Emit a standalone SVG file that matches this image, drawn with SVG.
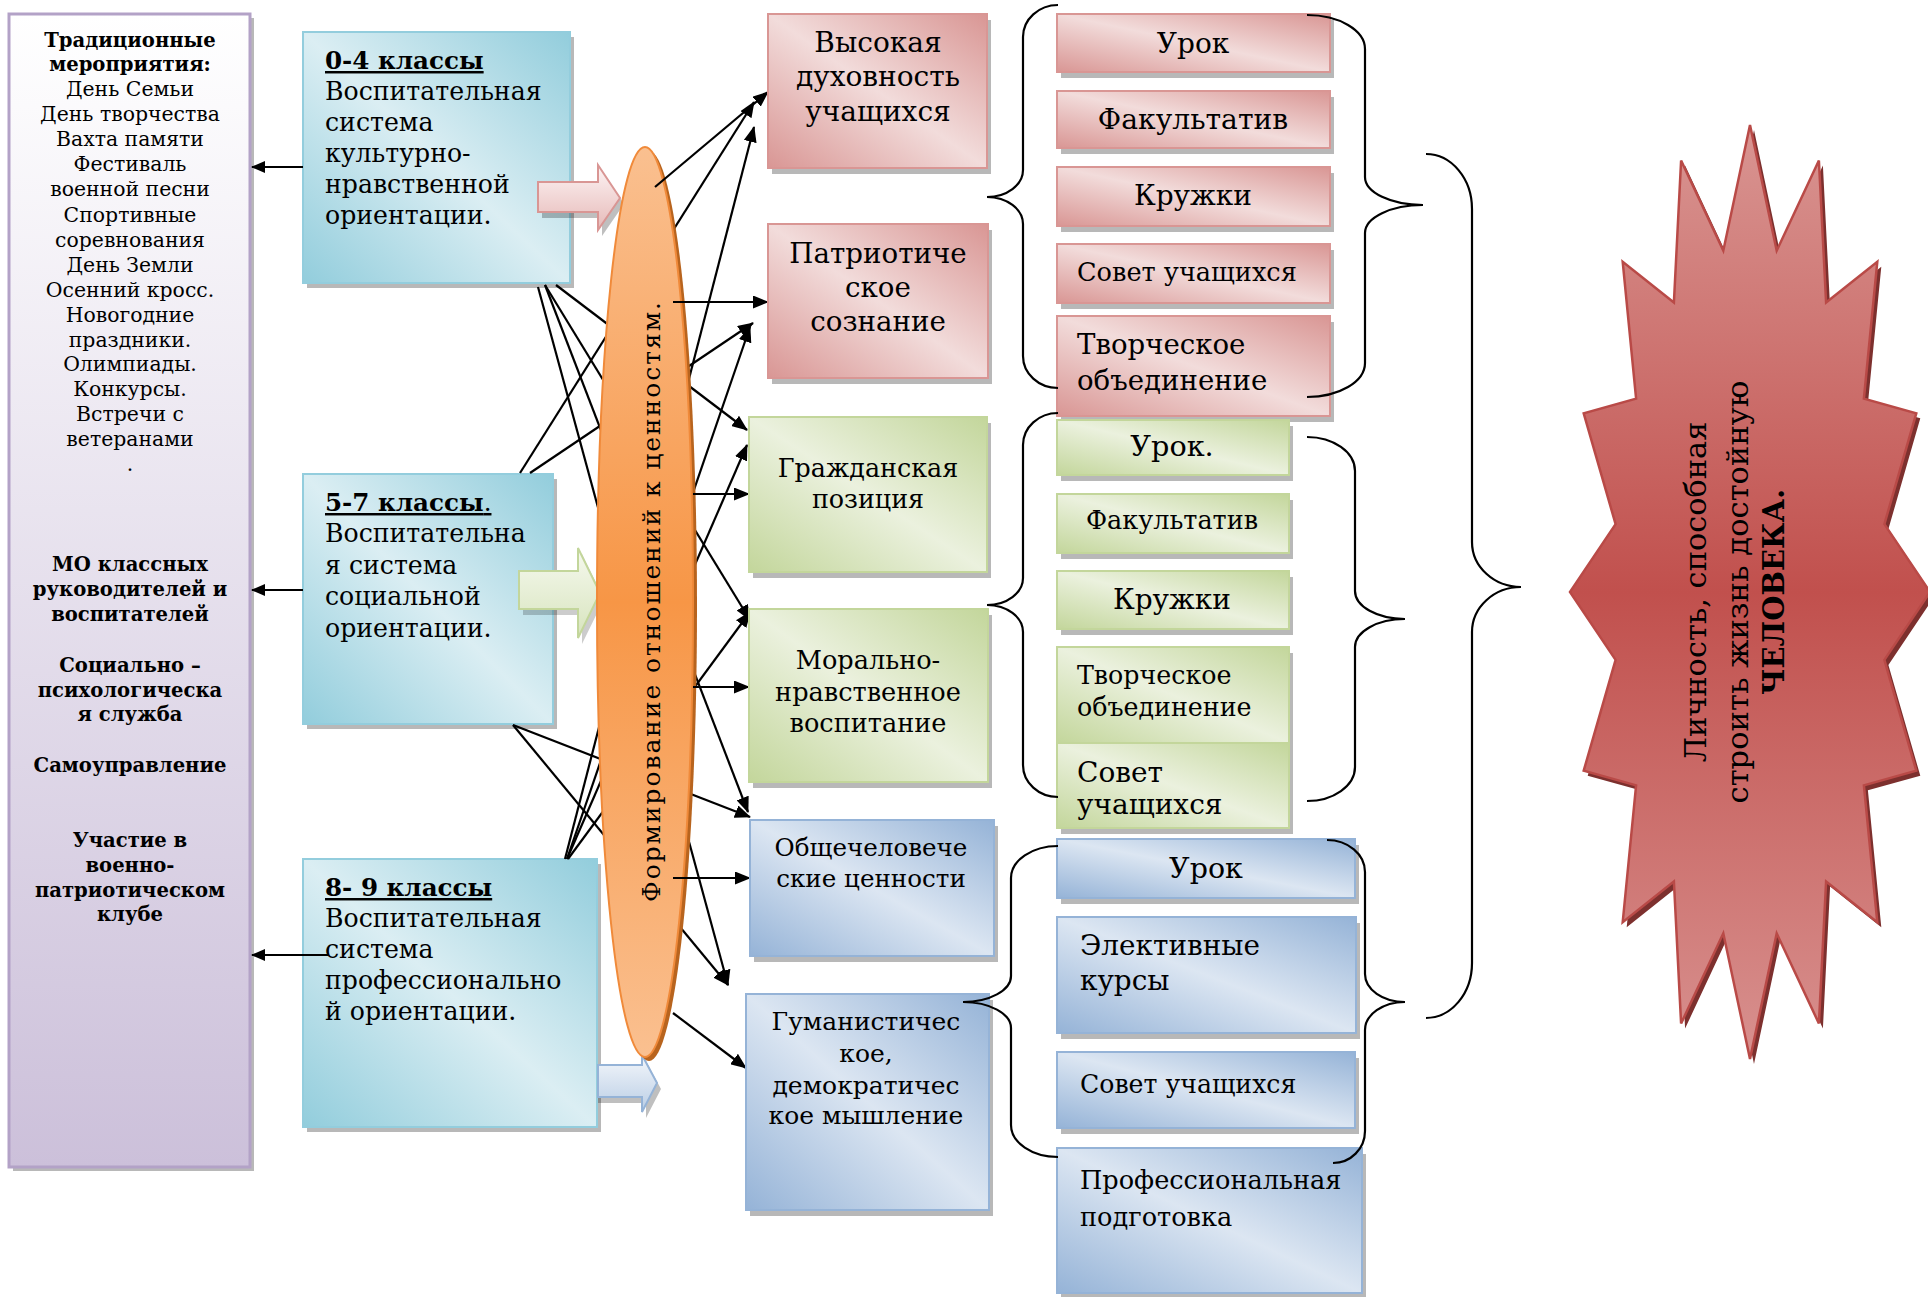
<svg xmlns="http://www.w3.org/2000/svg" width="1928" height="1297" viewBox="0 0 1928 1297">
<defs>
<linearGradient id="gTeal" x1="1" y1="0" x2="0" y2="1"><stop offset="0" stop-color="#92CDDC"/><stop offset="0.5" stop-color="#DBEEF3"/><stop offset="1" stop-color="#92CDDC"/></linearGradient>
<linearGradient id="gPink" x1="1" y1="0" x2="0" y2="1"><stop offset="0" stop-color="#D99694"/><stop offset="0.5" stop-color="#F2DCDB"/><stop offset="1" stop-color="#D99694"/></linearGradient>
<linearGradient id="gGreen" x1="1" y1="0" x2="0" y2="1"><stop offset="0" stop-color="#C3D69B"/><stop offset="0.5" stop-color="#EBF1DE"/><stop offset="1" stop-color="#C3D69B"/></linearGradient>
<linearGradient id="gBlue" x1="1" y1="0" x2="0" y2="1"><stop offset="0" stop-color="#95B3D7"/><stop offset="0.5" stop-color="#DCE6F2"/><stop offset="1" stop-color="#95B3D7"/></linearGradient>
<linearGradient id="gPurple" x1="0" y1="0" x2="0" y2="1"><stop offset="0" stop-color="#FFFFFF"/><stop offset="1" stop-color="#CCC0DA"/></linearGradient>
<linearGradient id="gOrange" x1="0" y1="0" x2="0" y2="1"><stop offset="0" stop-color="#FAC090"/><stop offset="0.5" stop-color="#F79646"/><stop offset="1" stop-color="#FAC090"/></linearGradient>
<linearGradient id="gStar" x1="0" y1="0" x2="0" y2="1"><stop offset="0" stop-color="#D99592"/><stop offset="0.5" stop-color="#C1504D"/><stop offset="1" stop-color="#D8918F"/></linearGradient>
<linearGradient id="gArrP" x1="0" y1="0" x2="0" y2="1"><stop offset="0" stop-color="#FDF4F4"/><stop offset="1" stop-color="#E6B9B8"/></linearGradient>
<linearGradient id="gArrG" x1="0" y1="0" x2="0" y2="1"><stop offset="0" stop-color="#F6F9EF"/><stop offset="1" stop-color="#D7E4BD"/></linearGradient>
<linearGradient id="gArrB" x1="0" y1="0" x2="0" y2="1"><stop offset="0" stop-color="#F4F7FB"/><stop offset="1" stop-color="#B9CDE5"/></linearGradient>
<marker id="ah" markerUnits="userSpaceOnUse" markerWidth="16" markerHeight="13" viewBox="0 0 16 13" refX="15" refY="6.5" orient="auto"><path d="M0,0 L16,6.5 L0,13 z" fill="#000"/></marker>
<marker id="ahs" markerUnits="userSpaceOnUse" markerWidth="14" markerHeight="12" viewBox="0 0 14 12" refX="13" refY="6" orient="auto"><path d="M0,0 L14,6 L0,12 z" fill="#000"/></marker>
</defs>
<style>
.s{font-family:"DejaVu Serif",serif;fill:#000}
.b{font-weight:bold}
.sh{fill:#000;fill-opacity:0.28}
.ln{stroke:#000;stroke-width:2.2;fill:none}
.br{stroke:#000;stroke-width:2.2;fill:none}
.pk{fill:url(#gPink);stroke:#D99694;stroke-width:2}
.gr{fill:url(#gGreen);stroke:#C3D69B;stroke-width:2}
.bl{fill:url(#gBlue);stroke:#95B3D7;stroke-width:2}
.tl{fill:url(#gTeal);stroke:#93CDDD;stroke-width:2}
</style>

<g id="n-events">
<rect class="sh" x="13" y="18" width="241" height="1153"/>
<rect x="9" y="14" width="241" height="1153" fill="url(#gPurple)" stroke="#B3A2C7" stroke-width="3"/>
<g class="s" text-anchor="middle" font-size="20.4">
<text class="b" x="130" y="47" font-size="19.6">Традиционные</text>
<text class="b" x="130" y="71" font-size="19.6">мероприятия:</text>
<text x="130" y="96">День Семьи</text>
<text x="130" y="121">День творчества</text>
<text x="130" y="146">Вахта памяти</text>
<text x="130" y="171">Фестиваль</text>
<text x="130" y="196">военной песни</text>
<text x="130" y="222">Спортивные</text>
<text x="130" y="247">соревнования</text>
<text x="130" y="272">День Земли</text>
<text x="130" y="297">Осенний кросс.</text>
<text x="130" y="322">Новогодние</text>
<text x="130" y="347">праздники.</text>
<text x="130" y="371">Олимпиады.</text>
<text x="130" y="396">Конкурсы.</text>
<text x="130" y="421">Встречи с</text>
<text x="130" y="446">ветеранами</text>
<text x="130" y="471">.</text>
<text class="b" x="130" y="571" font-size="19.6">МО классных</text>
<text class="b" x="130" y="596" font-size="19.6">руководителей и</text>
<text class="b" x="130" y="621" font-size="19.6">воспитателей</text>
<text class="b" x="130" y="672" font-size="19.6">Социально –</text>
<text class="b" x="130" y="697" font-size="19.6">психологическа</text>
<text class="b" x="130" y="721" font-size="19.6">я служба</text>
<text class="b" x="130" y="772" font-size="19.6">Самоуправление</text>
<text class="b" x="130" y="847" font-size="19.6">Участие в</text>
<text class="b" x="130" y="872" font-size="19.6">военно-</text>
<text class="b" x="130" y="897" font-size="19.6">патриотическом</text>
<text class="b" x="130" y="921" font-size="19.6">клубе</text>
</g>
</g>

<g id="n-grade04">
<rect class="sh" x="307" y="37" width="267" height="251"/>
<rect class="tl" x="303" y="32" width="267" height="251"/>
<g class="s" font-size="25.2">
<text x="325" y="69" class="b" font-size="24.6" text-decoration="underline">0-4 классы</text>
<text x="325" y="100">Воспитательная</text>
<text x="325" y="131">система</text>
<text x="325" y="162">культурно-</text>
<text x="325" y="193">нравственной</text>
<text x="325" y="224">ориентации.</text>
</g>
</g>

<g id="n-grade57">
<rect class="sh" x="307" y="479" width="250" height="250"/>
<rect class="tl" x="303" y="474" width="250" height="250"/>
<g class="s" font-size="25.2">
<text x="325" y="511" font-size="24.6" text-decoration="underline"><tspan class="b">5-7 классы</tspan>.</text>
<text x="325" y="542">Воспитательна</text>
<text x="325" y="574">я система</text>
<text x="325" y="605">социальной</text>
<text x="325" y="637">ориентации.</text>
</g>
</g>

<g id="n-grade89">
<rect class="sh" x="307" y="864" width="294" height="268"/>
<rect class="tl" x="303" y="859" width="294" height="268"/>
<g class="s" font-size="25.2">
<text x="325" y="896" class="b" font-size="24.6" text-decoration="underline">8- 9 классы</text>
<text x="325" y="927">Воспитательная</text>
<text x="325" y="958">система</text>
<text x="325" y="989">профессионально</text>
<text x="325" y="1020">й ориентации.</text>
</g>
</g>

<g id="n-arrow-pink">
<polygon points="542,188 602,188 602,171 624,204 602,236 602,218 542,218" fill="#000" fill-opacity="0.25"/>
<polygon points="538,182 598,182 598,165 620,198 598,230 598,212 538,212" fill="url(#gArrP)" stroke="#D99694" stroke-width="2"/>
</g>
<g id="n-arrow-green">
<polygon points="523,577 582,577 582,554 604,599 582,644 582,615 523,615" fill="#000" fill-opacity="0.2"/>
<polygon points="519,571 578,571 578,548 600,593 578,638 578,609 519,609" fill="url(#gArrG)" stroke="#C3D69B" stroke-width="2"/>
</g>
<g id="n-arrow-blue">
<polygon points="598,1071 646,1071 646,1061 661,1089 646,1118 646,1103 598,1103" fill="#000" fill-opacity="0.25"/>
<polygon points="598,1065 642,1065 642,1055 657,1083 642,1112 642,1097 598,1097" fill="url(#gArrB)" stroke="#95B3D7" stroke-width="2"/>
</g>

<g id="connectors">
<line class="ln" x1="303" y1="167" x2="252" y2="167" marker-end="url(#ahs)"/>
<line class="ln" x1="303" y1="590" x2="252" y2="590" marker-end="url(#ahs)"/>
<line class="ln" x1="328" y1="955" x2="252" y2="955" marker-end="url(#ahs)"/>
<line class="ln" x1="556" y1="285" x2="747" y2="430" marker-end="url(#ah)"/>
<line class="ln" x1="545" y1="285" x2="750" y2="620" marker-end="url(#ah)"/>
<line class="ln" x1="545" y1="285" x2="748" y2="812" marker-end="url(#ah)"/>
<line class="ln" x1="538" y1="287" x2="728" y2="985" marker-end="url(#ah)"/>
<line class="ln" x1="520" y1="473" x2="754" y2="102" marker-end="url(#ah)"/>
<line class="ln" x1="530" y1="473" x2="753" y2="323" marker-end="url(#ah)"/>
<line class="ln" x1="513" y1="725" x2="750" y2="817" marker-end="url(#ah)"/>
<line class="ln" x1="513" y1="725" x2="728" y2="985" marker-end="url(#ah)"/>
<line class="ln" x1="565" y1="859" x2="754" y2="127" marker-end="url(#ah)"/>
<line class="ln" x1="567" y1="859" x2="750" y2="327" marker-end="url(#ah)"/>
<line class="ln" x1="567" y1="859" x2="747" y2="445" marker-end="url(#ah)"/>
<line class="ln" x1="568" y1="859" x2="750" y2="612" marker-end="url(#ah)"/>
</g>

<g id="n-values">
<ellipse cx="649" cy="606" rx="48" ry="455" fill="#B8641E"/>
<ellipse cx="645" cy="602" rx="48" ry="455" fill="url(#gOrange)" stroke="#F08A3A" stroke-width="2"/>
<text class="s" font-size="25" text-anchor="middle" transform="translate(660,602) rotate(-90)" textLength="600" lengthAdjust="spacing">Формирование отношений к ценностям.</text>
</g>

<g id="connectors-out">
<line class="ln" x1="655" y1="187" x2="768" y2="92" marker-end="url(#ah)"/>
<line class="ln" x1="673" y1="302" x2="768" y2="302" marker-end="url(#ah)"/>
<line class="ln" x1="693" y1="494" x2="749" y2="494" marker-end="url(#ah)"/>
<line class="ln" x1="693" y1="687" x2="749" y2="687" marker-end="url(#ah)"/>
<line class="ln" x1="673" y1="878" x2="750" y2="878" marker-end="url(#ah)"/>
<line class="ln" x1="673" y1="1013" x2="746" y2="1068" marker-end="url(#ah)"/>
</g>

<g id="n-spirit">
<rect class="sh" x="772" y="20" width="219" height="154"/>
<rect class="pk" x="768" y="14" width="219" height="154"/>
<g class="s" font-size="28" text-anchor="middle">
<text x="878" y="52">Высокая</text><text x="878" y="86">духовность</text><text x="878" y="121">учащихся</text>
</g>
</g>
<g id="n-patriot">
<rect class="sh" x="772" y="230" width="220" height="154"/>
<rect class="pk" x="768" y="224" width="220" height="154"/>
<g class="s" font-size="27.7" text-anchor="middle">
<text x="878" y="263">Патриотиче</text><text x="878" y="297">ское</text><text x="878" y="331">сознание</text>
</g>
</g>
<g id="n-civic">
<rect class="sh" x="753" y="423" width="238" height="155"/>
<rect class="gr" x="749" y="417" width="238" height="155"/>
<g class="s" font-size="25.4" text-anchor="middle">
<text x="868" y="477">Гражданская</text><text x="868" y="508">позиция</text>
</g>
</g>
<g id="n-moral">
<rect class="sh" x="753" y="615" width="239" height="173"/>
<rect class="gr" x="749" y="609" width="239" height="173"/>
<g class="s" font-size="25.6" text-anchor="middle">
<text x="868" y="669">Морально-</text><text x="868" y="701">нравственное</text><text x="868" y="732">воспитание</text>
</g>
</g>
<g id="n-human">
<rect class="sh" x="754" y="826" width="244" height="136"/>
<rect class="bl" x="750" y="820" width="244" height="136"/>
<g class="s" font-size="24.6" text-anchor="middle">
<text x="871" y="856">Общечеловече</text><text x="871" y="887">ские ценности</text>
</g>
</g>
<g id="n-humanist">
<rect class="sh" x="750" y="1000" width="243" height="216"/>
<rect class="bl" x="746" y="994" width="243" height="216"/>
<g class="s" font-size="25" text-anchor="middle">
<text x="866" y="1030">Гуманистичес</text><text x="866" y="1062">кое,</text><text x="866" y="1094">демократичес</text><text x="866" y="1124">кое мышление</text>
</g>
</g>

<g id="n-p-lesson"><rect class="sh" x="1061" y="20" width="273" height="58"/><rect class="pk" x="1057" y="14" width="273" height="58"/><text class="s" font-size="28" x="1193" y="53" text-anchor="middle">Урок</text></g>
<g id="n-p-elective"><rect class="sh" x="1061" y="97" width="273" height="57"/><rect class="pk" x="1057" y="91" width="273" height="57"/><text class="s" font-size="28.2" x="1193" y="129" text-anchor="middle">Факультатив</text></g>
<g id="n-p-clubs"><rect class="sh" x="1061" y="173" width="273" height="59"/><rect class="pk" x="1057" y="167" width="273" height="59"/><text class="s" font-size="28" x="1193" y="205" text-anchor="middle">Кружки</text></g>
<g id="n-p-council"><rect class="sh" x="1061" y="250" width="273" height="59"/><rect class="pk" x="1057" y="244" width="273" height="59"/><text class="s" font-size="25.6" x="1077" y="281">Совет учащихся</text></g>
<g id="n-p-creative"><rect class="sh" x="1061" y="322" width="273" height="100"/><rect class="pk" x="1057" y="316" width="273" height="100"/><text class="s" font-size="27.6" x="1077" y="354">Творческое</text><text class="s" font-size="27.6" x="1077" y="390">объединение</text></g>

<g id="n-g-lesson"><rect class="sh" x="1061" y="426" width="232" height="55"/><rect class="gr" x="1057" y="420" width="232" height="55"/><text class="s" font-size="28.7" x="1172" y="456" text-anchor="middle">Урок.</text></g>
<g id="n-g-elective"><rect class="sh" x="1061" y="500" width="232" height="59"/><rect class="gr" x="1057" y="494" width="232" height="59"/><text class="s" font-size="25.5" x="1172" y="529" text-anchor="middle">Факультатив</text></g>
<g id="n-g-clubs"><rect class="sh" x="1061" y="577" width="232" height="58"/><rect class="gr" x="1057" y="571" width="232" height="58"/><text class="s" font-size="28" x="1172" y="609" text-anchor="middle">Кружки</text></g>
<g id="n-g-creative"><rect class="sh" x="1061" y="653" width="232" height="181"/><rect class="gr" x="1057" y="647" width="232" height="96"/><text class="s" font-size="25.3" x="1077" y="684">Творческое</text><text class="s" font-size="25.3" x="1077" y="716">объединение</text></g>
<g id="n-g-council"><rect class="gr" x="1057" y="743" width="232" height="85"/><text class="s" font-size="28" x="1077" y="782">Совет</text><text class="s" font-size="28" x="1077" y="814">учащихся</text></g>

<g id="n-b-lesson"><rect class="sh" x="1061" y="845" width="298" height="59"/><rect class="bl" x="1057" y="839" width="298" height="59"/><text class="s" font-size="28.5" x="1206" y="878" text-anchor="middle">Урок</text></g>
<g id="n-b-elective"><rect class="sh" x="1061" y="923" width="299" height="116"/><rect class="bl" x="1057" y="917" width="299" height="116"/><text class="s" font-size="27.9" x="1080" y="955">Элективные</text><text class="s" font-size="27.9" x="1080" y="990">курсы</text></g>
<g id="n-b-council"><rect class="sh" x="1061" y="1058" width="298" height="76"/><rect class="bl" x="1057" y="1052" width="298" height="76"/><text class="s" font-size="25.2" x="1080" y="1093">Совет учащихся</text></g>
<g id="n-b-prof"><rect class="sh" x="1061" y="1154" width="305" height="145"/><rect class="bl" x="1057" y="1148" width="305" height="145"/><text class="s" font-size="25.6" x="1080" y="1189">Профессиональная</text><text class="s" font-size="25.6" x="1080" y="1226">подготовка</text></g>

<g id="braces">
<path class="br" d="M1058,5 C1038.7,5 1023,19.3 1023,37 L1023,170 C1023,184.9 1006.9,197 987,197 C1006.9,197 1023,209.1 1023,224 L1023,356 C1023,373.7 1038.7,388 1058,388"/>
<path class="br" d="M1058,413 C1038.7,413 1023,427.3 1023,445 L1023,578 C1023,592.9 1006.9,605 987,605 C1006.9,605 1023,617.1 1023,632 L1023,765 C1023,782.7 1038.7,797 1058,797"/>
<path class="br" d="M1058,846 C1032.1,846 1011,860.3 1011,878 L1011,976 C1011,990.4 989.5,1002 963,1002 C989.5,1002 1011,1013.6 1011,1028 L1011,1125 C1011,1142.7 1032.1,1157 1058,1157"/>
<path class="br" d="M1307,15 C1339,15 1365,30.2 1365,49 L1365,177 C1365,192.5 1391,205 1423,205 C1391,205 1365,217.5 1365,233 L1365,363 C1365,381.8 1339,397 1307,397"/>
<path class="br" d="M1307,437 C1333.5,437 1355,452.2 1355,471 L1355,591 C1355,606.5 1377.4,619 1405,619 C1377.4,619 1355,631.5 1355,647 L1355,767 C1355,785.8 1333.5,801 1307,801"/>
<path class="br" d="M1327,840 C1348,840 1365,854.3 1365,872 L1365,974 C1365,989.5 1382.9,1002 1405,1002 C1382.9,1002 1365,1014.5 1365,1030 L1365,1131 C1365,1148.7 1350.7,1163 1333,1163"/>
<path class="br" d="M1426,154 C1451.4,154 1472,178.6 1472,209 L1472,542 C1472,566.8 1494,587 1521,587 C1494,587 1472,607.2 1472,632 L1472,963 C1472,993.4 1451.4,1018 1426,1018"/>
</g>

<g id="n-result">
<polygon transform="translate(4,5)" fill="#7D302E" points="1750,125 1776.7,250.7 1818.9,160.5 1826.1,302.6 1877.3,261.8 1863.9,398.7 1916.3,413.3 1884.4,524.1 1930,592 1884.4,659.9 1916.3,770.7 1863.9,785.3 1877.3,922.2 1826.1,881.4 1818.9,1023.5 1776.7,933.3 1750,1059 1723.3,933.3 1681.1,1023.5 1673.9,881.4 1622.7,922.2 1636.1,785.3 1583.7,770.7 1615.6,659.9 1570,592 1615.6,524.1 1583.7,413.3 1636.1,398.7 1622.7,261.8 1673.9,302.6 1681.1,160.5 1723.3,250.7"/>
<polygon fill="url(#gStar)" stroke="#B94A47" stroke-width="2.5" points="1750,125 1776.7,250.7 1818.9,160.5 1826.1,302.6 1877.3,261.8 1863.9,398.7 1916.3,413.3 1884.4,524.1 1930,592 1884.4,659.9 1916.3,770.7 1863.9,785.3 1877.3,922.2 1826.1,881.4 1818.9,1023.5 1776.7,933.3 1750,1059 1723.3,933.3 1681.1,1023.5 1673.9,881.4 1622.7,922.2 1636.1,785.3 1583.7,770.7 1615.6,659.9 1570,592 1615.6,524.1 1583.7,413.3 1636.1,398.7 1622.7,261.8 1673.9,302.6 1681.1,160.5 1723.3,250.7"/>
<g class="s" text-anchor="middle">
<text font-size="30.4" transform="translate(1706,592) rotate(-90)">Личность, способная</text>
<text font-size="30.6" transform="translate(1748,592) rotate(-90)">строить жизнь достойную</text>
<text font-size="29" class="b" transform="translate(1784,592) rotate(-90)">ЧЕЛОВЕКА.</text>
</g>
</g>
</svg>
